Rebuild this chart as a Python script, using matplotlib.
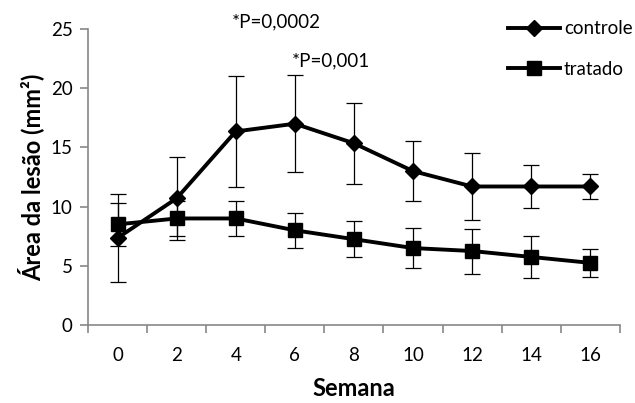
import numpy as np
import matplotlib.pyplot as plt

plt.rcParams['font.family'] = ['Lato', 'DejaVu Sans']

semanas = ['0', '2', '4', '6', '8', '10', '12', '14', '16']
controle = [7.35, 10.7, 16.35, 17.0, 15.35, 13.0, 11.7, 11.7, 11.7]
controle_err = [3.75, 3.5, 4.7, 4.1, 3.4, 2.5, 2.8, 1.8, 1.05]
tratado = [8.5, 9.0, 9.0, 8.0, 7.25, 6.5, 6.25, 5.75, 5.25]
tratado_err = [1.8, 1.5, 1.45, 1.5, 1.5, 1.7, 1.9, 1.75, 1.2]

x = np.arange(len(semanas))
gray = '#888888'

fig = plt.figure(figsize=(6.35, 4.03), dpi=100)
ax = fig.add_axes([0.1386, 0.1935, 0.8374, 0.7345])

ax.errorbar(x, controle, yerr=controle_err, fmt='none', ecolor='black',
            elinewidth=0.9, capsize=5.5, capthick=0.9, zorder=2)
ax.errorbar(x, tratado, yerr=tratado_err, fmt='none', ecolor='black',
            elinewidth=0.9, capsize=5.5, capthick=0.9, zorder=2)
ax.plot(x, controle, color='black', lw=2.8, marker='D', markersize=8,
        label='controle', zorder=3)
ax.plot(x, tratado, color='black', lw=2.8, marker='s', markersize=9.5,
        label='tratado', zorder=3)

ax.set_xlim(-0.5, len(semanas) - 0.5)
ax.set_ylim(0, 25)
ax.set_yticks([0, 5, 10, 15, 20, 25])
ax.set_xticks(np.arange(len(semanas) + 1) - 0.5)
ax.set_xticklabels([])
ax.set_xticks(x, minor=True)
ax.set_xticklabels(semanas, minor=True)
ax.tick_params(axis='x', which='minor', length=0, pad=16, labelsize=13.5)
ax.tick_params(axis='x', which='major', length=6, color=gray, width=1.2, direction='out')
ax.tick_params(axis='y', length=6, color=gray, width=1.2, direction='out', labelsize=13.5, pad=5)

for s in ['top', 'right']:
    ax.spines[s].set_visible(False)
for s in ['left', 'bottom']:
    ax.spines[s].set_color(gray)
    ax.spines[s].set_linewidth(1.2)

ax.set_xlabel('Semana', fontsize=17, fontweight='bold', labelpad=9)
ax.set_ylabel('Área da lesão (mm²)', fontsize=17, fontweight='bold', labelpad=5)

fig.text(0.365, 0.945, '*P=0,0002', fontsize=13.5, ha='left', va='center')
fig.text(0.46, 0.848, '*P=0,001', fontsize=13.5, ha='left', va='center')

ax.legend(loc='upper left', bbox_to_anchor=(0.775, 1.055), frameon=False,
          fontsize=13.5, handlelength=2.8, handletextpad=0.2, labelspacing=1.25,
          borderaxespad=0)

fig.savefig('out.png', dpi=100)
